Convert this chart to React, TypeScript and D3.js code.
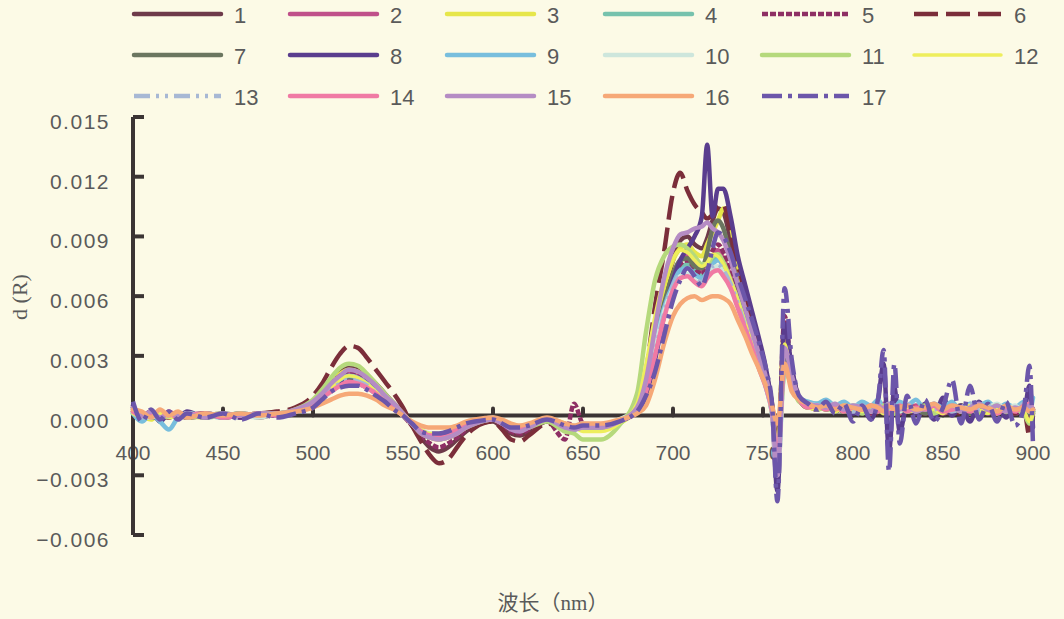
import React from "react";
import * as d3 from "d3";

// Wavelength grid (nm) shared by all samples
const WAVELENGTHS = [
  400, 405, 410, 415, 420, 425, 430, 440, 450, 460, 470, 480, 490,
  500, 505, 510, 515, 520, 525, 530, 535, 540, 545, 550, 555, 560, 565, 570, 575, 580, 585, 590,
  600, 605, 610, 615, 620, 630, 640, 645, 650, 660, 670,
  680, 685, 690, 695, 700, 704, 708, 712, 716, 719, 722, 725, 728, 732, 736, 740, 744, 748, 752, 755, 758, 762, 766, 770,
  775, 780, 785, 790, 795, 800, 805, 810, 814, 817, 820, 823, 826, 830, 835, 840, 845, 850, 855, 860, 865, 870, 875, 880, 885, 890, 895, 898, 900,
];

// First-derivative reflectance d(R) per sample, in units of 1e-3
const S1 = [
  0.4, -0.1, 0.2, -0.2, 0.1, 0.0, -0.1, 0.1, 0.0, 0.1, -0.1, 0.1, 0.2,
  0.7, 1.2, 1.8, 2.2, 2.4, 2.3, 2.0, 1.6, 1.1, 0.6, 0.1, -0.5, -1.1, -1.6, -1.8, -1.6, -1.2, -0.8, -0.5,
  -0.3, -0.6, -0.9, -1.0, -0.8, -0.3, -0.6, -0.7, -0.5, -0.7, -0.3,
  0.3, 1.6, 3.8, 6.0, 7.8, 8.8, 9.0, 8.6, 8.4, 8.9, 9.8, 10.4, 10.2, 8.8, 7.4, 6.0, 4.6, 3.2, 1.9, 0.5, -2.2, 3.0, 2.2, 0.9,
  0.6, 0.5, 0.4, 0.5, 0.3, 0.4, 0.2, 0.5, 0.3, 0.1, 0.4, 0.2, 0.5, 0.3, 0.1, 0.4, 0.2, 0.4, 0.1, 0.3, 0.5, 0.2, 0.4, 0.1, 0.3, 0.2, 0.4, -0.3, 0.1,
];
const S2 = [
  0.3, -0.2, 0.1, -0.1, 0.2, -0.1, 0.0, 0.1, -0.1, 0.0, 0.1, 0.0, 0.2,
  0.6, 1.0, 1.5, 1.9, 2.1, 2.0, 1.7, 1.3, 0.9, 0.5, 0.1, -0.4, -0.8, -1.1, -1.2, -1.1, -0.9, -0.6, -0.4,
  -0.2, -0.4, -0.7, -0.8, -0.6, -0.2, -0.5, -0.6, -0.5, -0.6, -0.3,
  0.3, 1.4, 3.4, 5.4, 7.0, 7.8, 8.0, 7.6, 7.2, 7.5, 8.0, 8.3, 7.9, 7.0, 6.0, 4.9, 3.8, 2.7, 1.6, 0.3, -2.0, 4.2, 1.8, 0.8,
  0.5, 0.4, 0.6, 0.3, 0.4, 0.2, 0.5, 0.1, 0.4, 0.6, 0.2, 0.4, 0.1, 0.3, 0.5, 0.2, 0.4, 0.1, 0.3, 0.5, 0.2, 0.4, 0.1, 0.4, 0.2, 0.3, 0.5, 0.0, 0.2,
];
const S3 = [
  0.2, 0.0, -0.2, 0.1, -0.1, 0.1, 0.0, -0.1, 0.1, 0.0, 0.1, 0.1, 0.3,
  0.7, 1.1, 1.7, 2.1, 2.3, 2.2, 1.9, 1.4, 1.0, 0.5, 0.1, -0.4, -0.8, -1.0, -1.1, -1.0, -0.8, -0.6, -0.3,
  -0.2, -0.3, -0.6, -0.7, -0.5, -0.2, -0.4, -0.6, -0.6, -0.7, -0.4,
  0.4, 1.9, 4.2, 6.4, 7.8, 8.4, 8.6, 8.2, 8.0, 8.6, 9.2, 9.8, 10.4, 9.6, 7.6, 5.8, 4.2, 2.9, 1.7, 0.4, -1.8, 4.6, 2.0, 0.8,
  0.4, 0.5, 0.3, 0.5, 0.2, 0.4, 0.3, 0.1, 0.4, 0.2, 0.5, 0.1, 0.3, 0.4, 0.2, 0.3, 0.1, 0.4, 0.2, 0.5, 0.1, 0.3, 0.4, 0.1, 0.3, 0.2, 0.3, -0.5, 0.2,
];
const S4 = [
  0.1, -0.1, 0.0, -0.2, 0.1, 0.0, 0.1, -0.1, 0.0, 0.1, 0.0, 0.1, 0.2,
  0.5, 0.9, 1.3, 1.7, 1.9, 1.8, 1.6, 1.2, 0.8, 0.4, 0.0, -0.4, -0.8, -1.0, -1.0, -0.9, -0.7, -0.5, -0.3,
  -0.2, -0.3, -0.6, -0.7, -0.5, -0.2, -0.5, -0.6, -0.5, -0.5, -0.3,
  0.3, 1.3, 3.2, 5.2, 6.7, 7.4, 7.6, 7.3, 7.0, 7.3, 7.8, 8.0, 7.7, 6.8, 5.8, 4.7, 3.6, 2.5, 1.4, 0.2, -2.2, 2.6, 1.6, 0.8,
  0.5, 0.6, 0.4, 0.3, 0.5, 0.3, 0.6, 0.2, 0.5, 0.3, 0.4, 0.6, 0.2, 0.5, 0.3, 0.4, 0.2, 0.5, 0.3, 0.2, 0.4, 0.6, 0.2, 0.3, 0.5, 0.1, 0.3, 0.1, 0.2,
];
const S5 = [
  0.3, 0.0, 0.2, -0.1, 0.0, 0.1, -0.1, 0.0, 0.1, -0.1, 0.1, 0.0, 0.2,
  0.6, 1.1, 1.6, 2.0, 2.2, 2.1, 1.8, 1.4, 1.0, 0.5, 0.0, -0.5, -1.0, -1.4, -1.6, -1.4, -1.1, -0.7, -0.4,
  -0.2, -0.5, -0.8, -0.9, -0.7, -0.3, -1.2, 0.6, -0.4, -0.6, -0.3,
  0.3, 1.4, 3.3, 5.3, 6.8, 7.6, 7.8, 7.4, 7.1, 7.6, 8.3, 8.6, 8.2, 7.2, 6.1, 5.0, 3.9, 2.8, 1.6, 0.2, -2.4, 5.0, 2.2, 0.9,
  0.5, 0.3, 0.5, 0.2, 0.4, 0.3, 0.5, 0.1, 0.3, 0.5, 0.2, 0.3, 0.4, 0.2, 0.4, 0.1, 0.3, 0.5, 0.2, 0.4, 0.3, 0.1, 0.4, 0.2, 0.5, 0.1, 0.3, 0.0, 0.2,
];
const S6 = [
  0.2, -0.1, 0.1, 0.0, -0.1, 0.1, 0.0, 0.1, 0.0, 0.0, 0.1, 0.2, 0.4,
  1.0, 1.6, 2.4, 3.1, 3.5, 3.4, 2.9, 2.3, 1.7, 1.1, 0.4, -0.5, -1.3, -2.0, -2.4, -2.2, -1.6, -1.0, -0.6,
  -0.3, -0.7, -1.2, -1.3, -1.0, -0.4, -0.7, -0.8, -0.6, -0.7, -0.3,
  0.4, 2.2, 5.5, 8.2, 11.2, 12.2, 11.3, 10.6, 10.2, 9.9, 10.1, 10.5, 10.6, 9.2, 7.6, 6.2, 4.8, 3.4, 2.0, 0.6, -1.8, 2.8, 1.8, 0.9,
  0.6, 0.4, 0.5, 0.3, 0.4, 0.2, 0.5, 0.3, 0.1, 0.4, 0.2, 0.5, 0.3, 0.2, 0.4, 0.1, 0.3, 0.4, 0.2, 0.1, 0.4, 0.3, 0.5, 0.2, 0.4, 0.1, 0.3, -1.0, 0.0,
];
const S7 = [
  0.2, 0.1, -0.1, 0.0, 0.1, -0.1, 0.0, 0.1, -0.1, 0.0, 0.1, 0.0, 0.2,
  0.5, 0.9, 1.3, 1.6, 1.8, 1.7, 1.5, 1.1, 0.7, 0.4, 0.0, -0.4, -0.8, -1.0, -1.0, -0.9, -0.7, -0.5, -0.3,
  -0.2, -0.4, -0.6, -0.7, -0.5, -0.2, -0.5, -0.6, -0.5, -0.6, -0.3,
  0.3, 1.5, 3.6, 5.6, 7.1, 7.8, 7.9, 7.5, 7.4, 8.2, 9.4, 9.8, 9.4, 8.0, 6.6, 5.3, 4.0, 2.8, 1.6, 0.3, -2.0, 3.0, 1.7, 0.8,
  0.4, 0.5, 0.3, 0.4, 0.2, 0.5, 0.3, 0.2, 0.4, 0.1, 0.3, 0.5, 0.2, 0.4, 0.3, 0.1, 0.4, 0.2, 0.3, 0.5, 0.1, 0.3, 0.2, 0.4, 0.1, 0.3, 0.2, 0.1, 0.3,
];
const S8 = [
  0.5, -0.2, 0.2, -0.3, 0.1, -0.1, 0.2, -0.1, 0.1, -0.1, 0.1, 0.0, 0.2,
  0.5, 0.9, 1.3, 1.6, 1.7, 1.6, 1.4, 1.1, 0.7, 0.4, 0.0, -0.4, -0.8, -1.0, -1.1, -1.0, -0.8, -0.5, -0.3,
  -0.2, -0.4, -0.6, -0.7, -0.5, -0.2, -0.6, -0.6, -0.5, -0.5, -0.3,
  0.2, 1.0, 2.8, 5.0, 6.8, 7.8, 8.4, 9.0, 10.0, 13.6, 10.0, 11.4, 11.4, 10.0, 8.0, 6.6, 5.2, 3.8, 2.2, 0.4, -3.8, 4.6, 2.4, 0.9,
  0.5, 0.3, 0.6, 0.2, 0.5, 0.1, 0.4, -0.2, 0.8, 2.6, -1.8, 1.4, -0.8, 0.5, 0.1, 0.6, -0.2, 0.9, 0.0, 0.5, -0.3, 0.7, 0.1, 0.5, -0.1, 0.4, 0.2, 1.5, -0.6,
];
const S9 = [
  0.1, -0.3, 0.1, -0.3, -0.7, -0.1, 0.1, 0.0, -0.1, 0.1, 0.0, 0.1, 0.2,
  0.6, 1.0, 1.4, 1.8, 2.0, 1.9, 1.6, 1.2, 0.8, 0.4, 0.0, -0.4, -0.8, -1.0, -1.0, -0.9, -0.7, -0.5, -0.3,
  -0.2, -0.3, -0.6, -0.7, -0.5, -0.2, -0.5, -0.7, -0.6, -0.6, -0.3,
  0.4, 1.6, 3.6, 5.4, 6.6, 7.3, 7.4, 7.1, 6.9, 7.2, 7.6, 7.8, 7.5, 6.7, 5.7, 4.6, 3.5, 2.4, 1.3, 0.1, -2.6, 2.4, 1.8, 0.9,
  0.7, 0.6, 0.8, 0.5, 0.7, 0.4, 0.7, 0.5, 0.8, 0.4, 0.6, 0.3, 0.7, 0.5, 0.8, 0.3, 0.6, 0.4, 0.7, 0.2, 0.6, 0.5, 0.7, 0.3, 0.6, 0.4, 0.7, 0.2, 0.9,
];
const S10 = [
  0.2, 0.0, -0.1, 0.1, 0.0, -0.1, 0.1, 0.0, 0.1, 0.0, -0.1, 0.1, 0.2,
  0.5, 0.8, 1.2, 1.5, 1.6, 1.6, 1.4, 1.1, 0.7, 0.4, 0.0, -0.4, -0.7, -0.9, -0.9, -0.8, -0.6, -0.4, -0.3,
  -0.1, -0.3, -0.5, -0.6, -0.5, -0.2, -0.5, -0.5, -0.4, -0.5, -0.2,
  0.4, 1.5, 3.4, 5.2, 6.4, 7.0, 7.1, 6.8, 6.6, 7.0, 7.4, 7.5, 7.2, 6.4, 5.5, 4.4, 3.4, 2.3, 1.3, 0.1, -3.0, 2.2, 1.6, 0.8,
  0.6, 0.5, 0.4, 0.6, 0.3, 0.5, 0.4, 0.2, 0.5, 0.3, 0.6, 0.4, 0.2, 0.5, 0.3, 0.4, 0.6, 0.2, 0.4, 0.3, 0.5, 0.2, 0.4, 0.6, 0.3, 0.5, 0.2, 0.4, 0.3,
];
const S11 = [
  0.2, 0.0, 0.1, -0.1, 0.0, 0.1, -0.1, 0.0, 0.1, 0.0, 0.1, 0.1, 0.3,
  0.8, 1.3, 1.9, 2.4, 2.6, 2.5, 2.1, 1.6, 1.1, 0.6, 0.1, -0.4, -0.9, -1.1, -1.2, -1.1, -0.9, -0.6, -0.4,
  -0.2, -0.4, -0.6, -0.7, -0.6, -0.3, -0.8, -0.9, -1.2, -1.2, -0.5,
  1.1, 4.2, 6.8, 8.0, 8.5, 8.6, 8.4, 8.0, 7.6, 7.6, 8.0, 8.1, 7.7, 6.8, 5.8, 4.7, 3.6, 2.5, 1.4, 0.2, -2.0, 2.2, 1.5, 0.7,
  0.5, 0.3, 0.4, 0.2, 0.5, 0.3, 0.1, 0.4, 0.2, 0.5, 0.3, 0.1, 0.4, 0.2, 0.3, 0.5, 0.1, 0.3, 0.4, 0.2, 0.4, 0.1, 0.3, 0.5, 0.2, 0.3, 0.1, -0.4, 0.2,
];
const S12 = [
  0.1, -0.1, 0.0, 0.1, -0.1, 0.0, 0.1, -0.1, 0.0, 0.1, 0.0, 0.1, 0.2,
  0.6, 1.0, 1.4, 1.8, 2.0, 1.9, 1.6, 1.2, 0.8, 0.4, 0.0, -0.4, -0.7, -0.9, -0.9, -0.8, -0.6, -0.4, -0.3,
  -0.2, -0.3, -0.5, -0.6, -0.5, -0.2, -0.5, -0.6, -0.8, -0.8, -0.4,
  0.6, 2.6, 5.0, 6.9, 7.9, 8.3, 8.2, 7.8, 7.5, 7.7, 8.1, 8.0, 7.6, 6.8, 5.8, 4.7, 3.6, 2.5, 1.4, 0.3, -1.8, 3.6, 1.8, 0.8,
  0.4, 0.3, 0.5, 0.2, 0.4, 0.3, 0.2, 0.5, 0.3, 0.1, 0.4, 0.2, 0.5, 0.3, 0.2, 0.4, 0.3, 0.1, 0.4, 0.2, 0.5, 0.3, 0.1, 0.4, 0.2, 0.3, 0.2, -0.3, 0.1,
];
const S13 = [
  0.3, -0.1, 0.1, -0.2, 0.0, 0.1, -0.1, 0.1, 0.0, -0.1, 0.1, 0.0, 0.2,
  0.5, 0.9, 1.3, 1.6, 1.8, 1.7, 1.5, 1.1, 0.8, 0.4, 0.0, -0.4, -0.8, -1.0, -1.0, -0.9, -0.7, -0.5, -0.3,
  -0.2, -0.3, -0.6, -0.7, -0.5, -0.2, -0.5, -0.6, -0.5, -0.5, -0.3,
  0.3, 1.3, 3.2, 5.1, 6.5, 7.1, 7.2, 6.9, 6.7, 7.1, 7.5, 7.6, 7.3, 6.6, 5.6, 4.5, 3.5, 2.4, 1.3, 0.1, -2.6, 2.4, 1.6, 0.8,
  0.5, 0.4, 0.6, 0.3, 0.5, 0.2, 0.5, 0.3, 0.6, 0.2, 0.4, 0.5, 0.3, 0.6, 0.2, 0.4, 0.3, 0.5, 0.2, 0.4, 0.6, 0.3, 0.5, 0.2, 0.4, 0.3, 0.6, 0.2, 0.4,
];
const S14 = [
  0.2, 0.0, 0.1, -0.1, 0.1, -0.1, 0.0, 0.1, -0.1, 0.0, 0.1, 0.0, 0.2,
  0.5, 0.9, 1.2, 1.5, 1.7, 1.6, 1.4, 1.1, 0.7, 0.4, 0.0, -0.4, -0.8, -1.0, -1.0, -0.9, -0.7, -0.5, -0.3,
  -0.2, -0.4, -0.6, -0.7, -0.5, -0.2, -0.5, -0.6, -0.5, -0.5, -0.3,
  0.3, 1.2, 3.0, 4.9, 6.3, 6.9, 7.0, 6.7, 6.5, 6.9, 7.2, 7.3, 7.0, 6.4, 5.4, 4.4, 3.4, 2.3, 1.3, 0.2, -2.2, 2.6, 1.6, 0.8,
  0.4, 0.5, 0.3, 0.5, 0.2, 0.4, 0.3, 0.5, 0.2, 0.4, 0.1, 0.3, 0.5, 0.2, 0.4, 0.3, 0.5, 0.2, 0.3, 0.4, 0.2, 0.5, 0.3, 0.1, 0.4, 0.2, 0.5, 0.6, 0.3,
];
const S15 = [
  0.4, 0.0, 0.2, -0.1, 0.1, 0.0, 0.1, -0.1, 0.1, 0.0, 0.1, 0.1, 0.3,
  0.7, 1.1, 1.6, 2.0, 2.3, 2.2, 1.9, 1.5, 1.0, 0.6, 0.1, -0.4, -0.9, -1.1, -1.2, -1.1, -0.9, -0.6, -0.4,
  -0.2, -0.4, -0.7, -0.8, -0.6, -0.2, -0.6, -0.7, -0.6, -0.6, -0.3,
  0.4, 1.8, 4.4, 6.9, 8.4, 9.1, 9.2, 9.4, 9.5, 9.7, 9.4, 9.2, 8.8, 7.8, 6.6, 5.4, 4.2, 3.0, 1.8, 0.4, -3.0, 3.4, 2.0, 0.9,
  0.6, 0.5, 0.4, 0.6, 0.3, 0.5, 0.4, 0.2, 0.5, 0.3, 0.6, 0.4, 0.3, 0.5, 0.2, 0.4, 0.6, 0.3, 0.5, 0.2, 0.4, 0.6, 0.3, 0.5, 0.2, 0.4, 0.3, 0.5, 0.3,
];
const S16 = [
  0.3, 0.2, -0.1, 0.3, 0.0, 0.2, -0.1, 0.1, 0.0, 0.1, 0.0, 0.1, 0.2,
  0.4, 0.6, 0.8, 1.0, 1.1, 1.1, 1.0, 0.8, 0.5, 0.3, 0.0, -0.3, -0.5, -0.6, -0.6, -0.6, -0.5, -0.3, -0.2,
  -0.1, -0.2, -0.4, -0.5, -0.4, -0.1, -0.4, -0.5, -0.4, -0.4, -0.2,
  0.1, 0.5, 1.8, 3.6, 5.0, 5.6, 5.9, 6.0, 5.8, 5.9, 6.0, 6.0, 5.9, 5.6, 4.8, 4.0, 3.1, 2.3, 1.4, 0.5, -0.4, 2.6, 1.2, 0.8,
  0.6, 0.4, 0.5, 0.3, 0.5, 0.4, 0.3, 0.5, 0.4, 0.2, 0.5, 0.3, 0.4, 0.5, 0.3, 0.4, 0.6, 0.3, 0.5, 0.4, 0.3, 0.5, 0.4, 0.2, 0.5, 0.3, 0.4, 0.2, 0.3,
];
const S17 = [
  0.7, -0.3, 0.3, -0.2, 0.2, -0.2, 0.1, -0.1, 0.1, -0.2, 0.1, -0.1, 0.1,
  0.4, 0.8, 1.2, 1.4, 1.5, 1.5, 1.3, 1.0, 0.7, 0.3, 0.0, -0.4, -0.8, -0.9, -0.9, -0.8, -0.6, -0.4, -0.3,
  -0.2, -0.4, -0.6, -0.6, -0.5, -0.2, -0.5, -0.6, -0.5, -0.5, -0.3,
  0.2, 1.0, 2.2, 4.0, 5.8, 6.8, 7.4, 7.0, 6.5, 7.2, 8.4, 9.2, 9.0, 8.2, 7.0, 5.9, 4.8, 3.6, 2.2, 0.6, -4.3, 6.4, 2.8, 1.0,
  0.6, 0.3, 0.7, 0.1, 0.6, -0.3, 0.5, -0.2, 0.9, 3.3, -2.8, 2.6, -1.4, 1.0, -0.4, 0.8, -0.3, 0.4, 1.8, -0.4, 1.5, -0.2, 0.6, -0.3, 0.7, -0.5, 0.4, 2.5, -1.5,
];

const SAMPLE_NAMES = ["1", "2", "3", "4", "5", "6", "7", "8", "9", "10", "11", "12", "13", "14", "15", "16", "17"];
const SAMPLE_VALUES = [S1, S2, S3, S4, S5, S6, S7, S8, S9, S10, S11, S12, S13, S14, S15, S16, S17];
const SAMPLE_COLORS = [
  "#6e3a4a", "#c0508a", "#e6e64a", "#76c2ad", "#8e2f64", "#7b2e3a",
  "#6b7660", "#5a3d8e", "#78bedd", "#cde6dc", "#b5d97c", "#eeee5c",
  "#a7b8d4", "#f07aa4", "#b58cc4", "#f6a877", "#6c56aa",
];
const SAMPLE_DASHES = [
  null, null, null, null, "6 2", "24 8",
  null, null, null, null, null, null,
  "16 6 3 6 3 6", null, null, null, "20 6 4 6",
];

const X_TICKS = [400, 450, 500, 550, 600, 650, 700, 750, 800, 850, 900];
const Y_TICKS = [-6, -3, 0, 3, 6, 9, 12, 15];

const BG = "#fcfae6";
const AXIS = "#3b3434";
const TEXT = "#5a5a5a";
const SANS = "'Liberation Sans', Arial, sans-serif";
const SERIF = "'Liberation Serif', 'Noto Sans CJK SC', serif";

export default function App() {
  const W = 1064;
  const H = 619;
  const x = d3.scaleLinear().domain([400, 900]).range([133, 1033]);
  const y = d3.scaleLinear().domain([-6, 15]).range([535, 117]);

  const line = d3
    .line<[number, number]>()
    .defined((d) => Number.isFinite(d[1]))
    .x((d) => x(d[0]))
    .y((d) => y(d[1]))
    .curve(d3.curveMonotoneX);

  const series = SAMPLE_NAMES.map((name, i) => ({
    name,
    color: SAMPLE_COLORS[i],
    dash: SAMPLE_DASHES[i],
    width: name === "12" ? 3.5 : 4.5,
    points: WAVELENGTHS.map((w, j) => [w, SAMPLE_VALUES[i][j]] as [number, number]),
  }));

  const fmtY = (v: number) => (v / 1000).toFixed(3).replace("-", "\u2212");

  const legendCols = [134, 290, 447, 605, 762, 914];
  const legendRows = [14, 55, 96];

  return (
    <svg
      width={W}
      height={H}
      style={{ position: "absolute", left: 0, top: 0, display: "block" }}
    >
      <rect x={0} y={0} width={W} height={H} fill={BG} />

      {/* legend */}
      {series.map((s, i) => {
        const cx = legendCols[i % 6];
        const cy = legendRows[Math.floor(i / 6)];
        return (
          <g key={`lg-${s.name}`}>
            <line
              x1={cx}
              x2={cx + 87}
              y1={cy}
              y2={cy}
              stroke={s.color}
              strokeWidth={s.width}
              strokeDasharray={s.dash ?? undefined}
              strokeLinecap={s.dash ? "butt" : "round"}
            />
            <text
              x={cx + 100}
              y={cy + 9}
              fontFamily={SANS}
              fontSize={22}
              fill={TEXT}
            >
              {s.name}
            </text>
          </g>
        );
      })}

      {/* x axis at zero */}
      <line x1={x(400)} x2={x(900)} y1={y(0)} y2={y(0)} stroke={AXIS} strokeWidth={4} />
      {X_TICKS.map((t) => (
        <line
          key={`xt-${t}`}
          x1={x(t)}
          x2={x(t)}
          y1={y(0)}
          y2={y(0) - 7}
          stroke={AXIS}
          strokeWidth={4}
          strokeLinecap="round"
        />
      ))}
      {X_TICKS.map((t) => (
        <text
          key={`xl-${t}`}
          x={x(t)}
          y={460}
          textAnchor="middle"
          fontFamily={SANS}
          fontSize={21}
          fill={TEXT}
        >
          {t}
        </text>
      ))}

      {/* y axis */}
      <line x1={x(400)} x2={x(400)} y1={y(15)} y2={y(-6)} stroke={AXIS} strokeWidth={4} />
      {Y_TICKS.map((t) => (
        <g key={`yt-${t}`}>
          <line
            x1={x(400)}
            x2={x(400) + 11}
            y1={y(t)}
            y2={y(t)}
            stroke={AXIS}
            strokeWidth={4}
          />
          <text
            x={110}
            y={y(t) + 12}
            textAnchor="end"
            fontFamily={SANS}
            fontSize={21}
            letterSpacing={1.5}
            fill={TEXT}
          >
            {fmtY(t)}
          </text>
        </g>
      ))}

      {/* spectra */}
      {series.map((s) => (
        <path
          key={`ln-${s.name}`}
          d={line(s.points) ?? ""}
          fill="none"
          stroke={s.color}
          strokeWidth={s.width}
          strokeDasharray={s.dash ?? undefined}
          strokeLinecap={s.dash ? "butt" : "round"}
          strokeLinejoin="round"
        />
      ))}

      {/* axis titles */}
      <text
        transform={`translate(27,297) rotate(-90)`}
        textAnchor="middle"
        fontFamily={SERIF}
        fontSize={22}
        fill={TEXT}
      >
        d (R)
      </text>
      <text
        x={553}
        y={610}
        textAnchor="middle"
        fontFamily={SERIF}
        fontSize={21}
        fill={TEXT}
      >
        波长（nm）
      </text>
    </svg>
  );
}
